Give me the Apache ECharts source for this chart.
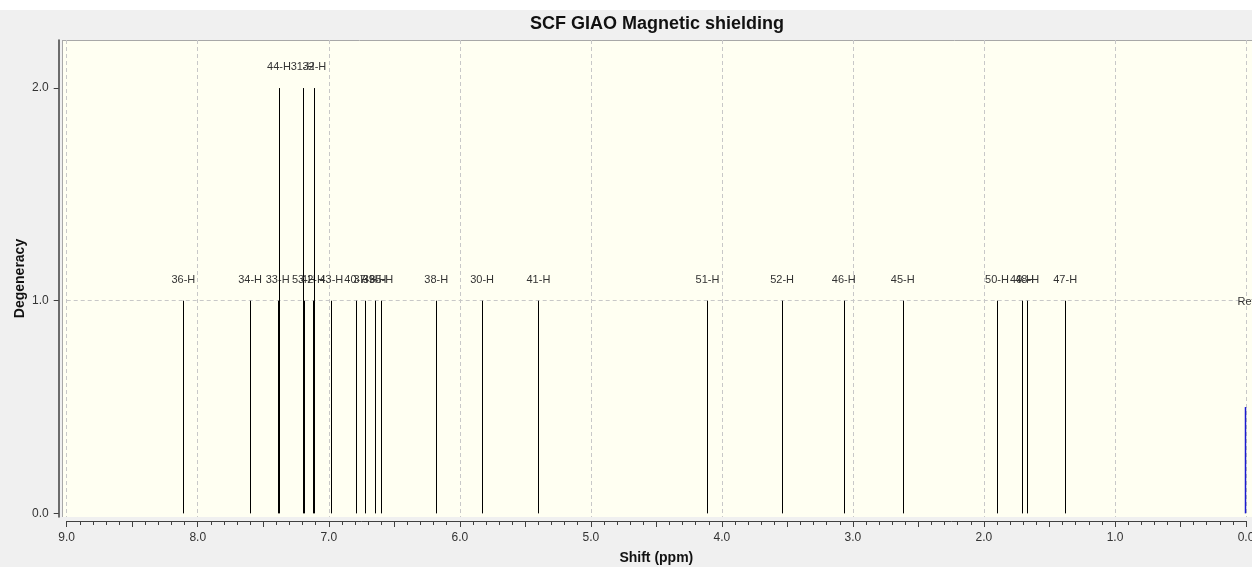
<!DOCTYPE html>
<html><head><meta charset="utf-8">
<script src="https://cdn.jsdelivr.net/npm/echarts@6/dist/echarts.min.js"></script>
<style>html,body{margin:0;padding:0;background:#fff;}#c{width:1252px;height:567px;}</style>
</head><body><div id="c"></div>
<script>
const peakLabels = ['36-H','34-H','33-H','44-H','53-H','31-H','42-H','32-H','43-H','40-H','37-H','39-H','35-H','38-H','30-H','41-H','51-H','52-H','46-H','45-H','50-H','49-H','48-H','47-H','Ref'];
const shifts = [8.11,7.60,7.39,7.38,7.19,7.20,7.12,7.11,6.98,6.79,6.72,6.65,6.60,6.18,5.83,5.40,4.11,3.54,3.07,2.62,1.90,1.71,1.67,1.38,0.00];
const degeneracy = [1,1,1,2,1,2,1,2,1,1,1,1,1,1,1,1,1,1,1,1,1,1,1,1,0.5];
const yTickValues = [0, 1, 2];
const titleText = 'SCF GIAO Magnetic shielding';
const xName = 'Shift (ppm)';
const yName = 'Degeneracy';

const FONT = '"Liberation Sans", Arial, sans-serif';
const chart = echarts.init(document.getElementById('c'), null, {renderer: 'canvas'});
const data = shifts.map((s, i) => [s, degeneracy[i]]);
const gridCol = '#c8c8c8';
const axisCol = '#404040';

chart.setOption({
  backgroundColor: '#f0f0f0',
  animation: false,
  graphic: [
    {type: 'rect', z: -20, shape: {x: 0, y: 0, width: 1252, height: 10}, style: {fill: '#ffffff'}},
    {type: 'rect', z: -10, shape: {x: 62, y: 40, width: 1190, height: 477}, style: {fill: '#fffff2'}},
    {type: 'line', z: -9, shape: {x1: 62, y1: 40.5, x2: 1252, y2: 40.5}, style: {stroke: '#a8a8a8', lineWidth: 1}},
    {type: 'line', z: -9, shape: {x1: 62.5, y1: 40, x2: 62.5, y2: 517}, style: {stroke: '#a8a8a8', lineWidth: 1}},
    {type: 'text', x: 657, y: 24, style: {text: titleText, textAlign: 'center', textVerticalAlign: 'middle', font: 'bold 18px ' + FONT, fill: '#111'}}
  ],
  grid: {left: 66.7, right: 6, top: 40, bottom: 50, containLabel: false, outerBoundsMode: 'none'},
  xAxis: [
    {
      type: 'value', inverse: true, min: 0, max: 9, interval: 0.5, position: 'bottom', offset: 4,
      axisLine: {show: true, onZero: false, lineStyle: {color: axisCol, width: 1}},
      axisTick: {show: true, inside: false, length: 6, lineStyle: {color: axisCol}},
      minorTick: {show: true, splitNumber: 5, length: 4, lineStyle: {color: axisCol}},
      axisLabel: {
        margin: 11, color: '#333', fontSize: 12, fontFamily: FONT,
        formatter: v => (Math.abs(v - Math.round(v)) < 1e-6 ? v.toFixed(1) : '')
      },
      splitLine: {show: false},
      name: xName, nameLocation: 'middle', nameGap: 30, nameMoveOverlap: false,
      nameTextStyle: {fontWeight: 'bold', fontSize: 14, color: '#111', fontFamily: FONT}
    },
    {
      type: 'value', inverse: true, min: 0, max: 9, interval: 1, position: 'bottom',
      axisLine: {show: false, onZero: false}, axisTick: {show: false}, axisLabel: {show: false},
      splitLine: {show: true, lineStyle: {type: [4, 3], color: gridCol, width: 1}}
    }
  ],
  yAxis: {
    type: 'value', min: -0.017, max: 2.226, splitNumber: 2, offset: 8, position: 'left',
    axisLine: {show: true, onZero: false, lineStyle: {color: axisCol, width: 1.5}},
    axisTick: {show: true, inside: false, length: 5, customValues: yTickValues, lineStyle: {color: axisCol}},
    axisLabel: {customValues: yTickValues, formatter: v => v.toFixed(1), margin: 10, color: '#333', fontSize: 12, fontFamily: FONT},
    splitLine: {show: true, showMinLine: false, showMaxLine: false, lineStyle: {type: [4, 3], color: gridCol, width: 1}},
    name: yName, nameLocation: 'middle', nameGap: 32, nameRotate: 90, nameMoveOverlap: false,
    nameTextStyle: {fontWeight: 'bold', fontSize: 14, color: '#111', fontFamily: FONT}
  },
  series: [{
    type: 'custom',
    xAxisIndex: 0,
    data: data,
    clip: false,
    renderItem: function (params, api) {
      const i = params.dataIndex;
      const x = api.value(0), h = api.value(1);
      const p0 = api.coord([x, 0]);
      const p1 = api.coord([x, h]);
      const isRef = peakLabels[i] === 'Ref';
      const lx = Math.round(p0[0]) + (isRef ? -0.5 : 0.5);
      const ly = isRef ? api.coord([x, 1])[1] + 1 : p1[1] - 21;
      return {
        type: 'group',
        children: [
          {type: 'line', shape: {x1: lx, y1: p0[1], x2: lx, y2: p1[1]}, style: {stroke: isRef ? '#1a1ad0' : '#000', lineWidth: isRef ? 1.5 : 1}},
          {type: 'text', x: p1[0], y: ly, style: {text: peakLabels[i], textAlign: 'center', textVerticalAlign: 'middle', font: '11px ' + FONT, fill: '#333'}}
        ]
      };
    }
  }]
});
</script></body></html>
